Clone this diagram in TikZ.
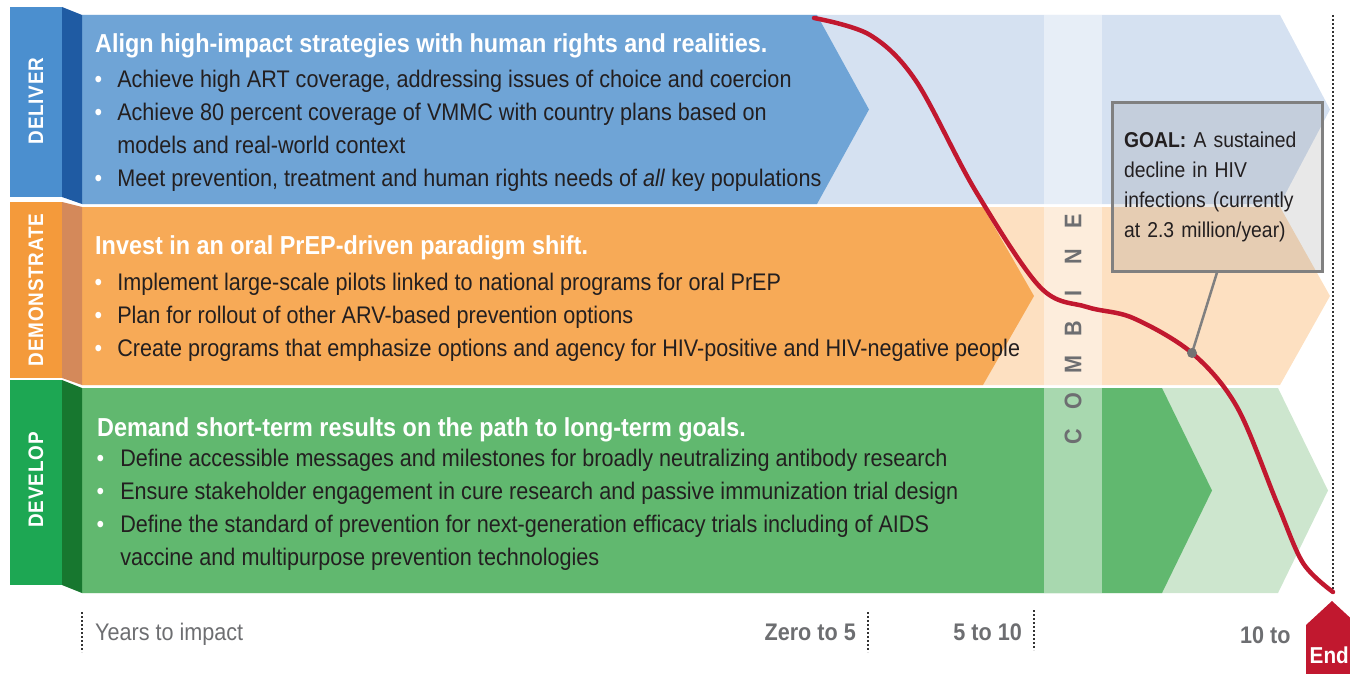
\documentclass[tikz,border=0pt]{standalone}
\usepackage{fontspec}
\setmainfont{Liberation Sans}[FakeStretch=0.9]
\usepackage{tikz}

\definecolor{dltag}{HTML}{4B8FCF}
\definecolor{dlfold}{HTML}{1F5BA3}
\definecolor{dlmain}{HTML}{6FA4D6}
\definecolor{dlpale}{HTML}{D5E1F1}
\definecolor{dmtag}{HTML}{F49A3B}
\definecolor{dmfold}{HTML}{D4895A}
\definecolor{dmmain}{HTML}{F7AA57}
\definecolor{dmpale}{HTML}{FDE0C1}
\definecolor{dvtag}{HTML}{1DA753}
\definecolor{dvfold}{HTML}{17772F}
\definecolor{dvmain}{HTML}{61B86F}
\definecolor{dvpale}{HTML}{CDE6CE}
\definecolor{redline}{HTML}{C1182F}
\definecolor{txtgray}{HTML}{6D6E71}
\definecolor{ink}{HTML}{231F20}

\newcommand{\bul}{\textcolor{white}{\textbullet}}

\begin{document}
\begin{tikzpicture}[x=1pt, y=-1pt, every node/.style={inner sep=0pt},
	tag/.style={rotate=90, text=white, font=\fontsize{21}{24}\selectfont\bfseries\addfontfeatures{LetterSpace=4}},
	head/.style={anchor=base west, text=white, font=\fontsize{26}{30}\selectfont\bfseries},
	items/.style={anchor=base west, text=ink, font=\fontsize{24}{33}\selectfont},
	combo/.style={rotate=90, text=txtgray, font=\fontsize{24}{26}\selectfont\bfseries},
	years/.style={text=txtgray, font=\fontsize{24}{26}\selectfont},
	tick/.style={line width=1.8pt, dash pattern=on 1.8pt off 2.2pt, black!80},
	goalbox/.style={draw=black!50, line width=3pt, fill=black!60, fill opacity=0.15, text opacity=1,
		text width=186pt, inner xsep=12pt, minimum height=168pt, align=left, text=ink,
		font=\fontsize{21.5}{30}\selectfont},
	curve/.style={redline, line width=4.5pt, line cap=round}]
	\useasboundingbox (0,0) rectangle (1350,674);

	% deliver
	\fill[dlpale] (82,15) -- (1280,15) -- (1330,109.5) -- (1280,204) -- (82,204) -- cycle;
	\fill[dlmain] (82,15) -- (817,15) -- (869,109.5) -- (817,204) -- (82,204) -- cycle;
	\fill[dlfold] (62,7) -- (82,15) -- (82,204) -- (62,197) -- cycle;
	\fill[dltag] (10,7) rectangle (62,197);
	% demonstrate
	\fill[dmpale] (82,207) -- (1280,207) -- (1330,296) -- (1280,385) -- (82,385) -- cycle;
	\fill[dmmain] (82,207) -- (983,207) -- (1034,296) -- (983,385) -- (82,385) -- cycle;
	\fill[dmfold] (62,202) -- (82,207) -- (82,385) -- (62,378) -- cycle;
	\fill[dmtag] (10,202) rectangle (62,378);
	% develop
	\fill[dvpale] (82,388) -- (1278,388) -- (1328,490.5) -- (1278,593) -- (82,593) -- cycle;
	\fill[dvmain] (82,388) -- (1162,388) -- (1212,490.5) -- (1162,593) -- (82,593) -- cycle;
	\fill[dvfold] (62,380) -- (82,388) -- (82,593) -- (62,585) -- cycle;
	\fill[dvtag] (10,380) rectangle (62,585);

	\fill[white, fill opacity=0.45] (1044,15) rectangle (1102,593);

	\node[tag] (deliver) at (36,101) {DELIVER};
	\node[tag] (demonstrate) at (36,290) {DEMONSTRATE};
	\node[tag] (develop) at (36,480) {DEVELOP};

	\node[head] (dlhead) at (95,52.5) {Align high-impact strategies with human rights and realities.};
	\node[items] (dlitems) at (94.5,88) {\begin{tabular}[t]{@{}l@{\hspace{15pt}}l@{}}
		\bul & Achieve high ART coverage, addressing issues of choice and coercion\\
		\bul & Achieve 80 percent coverage of VMMC with country plans based on\\
		& models and real-world context\\
		\bul & Meet prevention, treatment and human rights needs of \textit{all} key populations
	\end{tabular}};

	\node[head] (dmhead) at (95,254.5) {Invest in an oral PrEP-driven paradigm shift.};
	\node[items] (dmitems) at (94.5,290) {\begin{tabular}[t]{@{}l@{\hspace{15pt}}l@{}}
		\bul & Implement large-scale pilots linked to national programs for oral PrEP\\
		\bul & Plan for rollout of other ARV-based prevention options\\
		\bul & Create programs that emphasize options and agency for HIV-positive and HIV-negative people
	\end{tabular}};

	\node[head] (dvhead) at (97,436.5) {Demand short-term results on the path to long-term goals.};
	\node[items] (dvitems) at (96.5,466) {\begin{tabular}[t]{@{}l@{\hspace{16pt}}l@{}}
		\bul & Define accessible messages and milestones for broadly neutralizing antibody research\\
		\bul & Ensure stakeholder engagement in cure research and passive immunization trial design\\
		\bul & Define the standard of prevention for next-generation efficacy trials including of AIDS\\
		& vaccine and multipurpose prevention technologies
	\end{tabular}};

	\foreach \ltr [count=\i] in {E,N,I,B,M,O,C}
		\node[combo] (combine\i) at (1073,185+36*\i) {\ltr};

	\node[goalbox] (goal) at (1217,187) {\textbf{GOAL:} A sustained\\ decline in HIV\\ infections (currently\\ at 2.3 million/year)};

	\draw[tick] (1333,15) -- (1333,590);
	\coordinate (dot) at (1192,353);
	\draw[curve] plot[smooth, tension=0.55] coordinates {(814,18) (870,35) (916,81) (975,190) (1040,287)
		(1087,307) (1133,318) (1192,353) (1237,407) (1277,503) (1303,563) (1333,592)};
	\draw[black!50, line width=2.5pt] (goal.south) -- (dot);
	\fill[black!55] (dot) circle (5);

	% years to impact
	\draw[tick] (82,612) -- (82,652);
	\draw[tick] (868,612) -- (868,652);
	\draw[tick] (1034,610) -- (1034,650);
	\node[years, anchor=base west] (yrs) at (95,640) {Years to impact};
	\node[years, anchor=base east, font=\fontsize{24}{26}\selectfont\bfseries] (zero) at (856,640) {Zero to 5};
	\node[years, anchor=base east, font=\fontsize{24}{26}\selectfont\bfseries] (five) at (1022,640) {5 to 10};
	\node[years, anchor=base west, font=\fontsize{24}{26}\selectfont\bfseries] (ten) at (1240,643) {10 to};
	\fill[redline] (1306,674) -- (1306,625) -- (1332,601) -- (1358,625) -- (1358,674) -- cycle;
	\node[anchor=base east, text=white, font=\fontsize{23}{26}\selectfont\bfseries] (end) at (1349,663) {End};
\end{tikzpicture}
\end{document}
